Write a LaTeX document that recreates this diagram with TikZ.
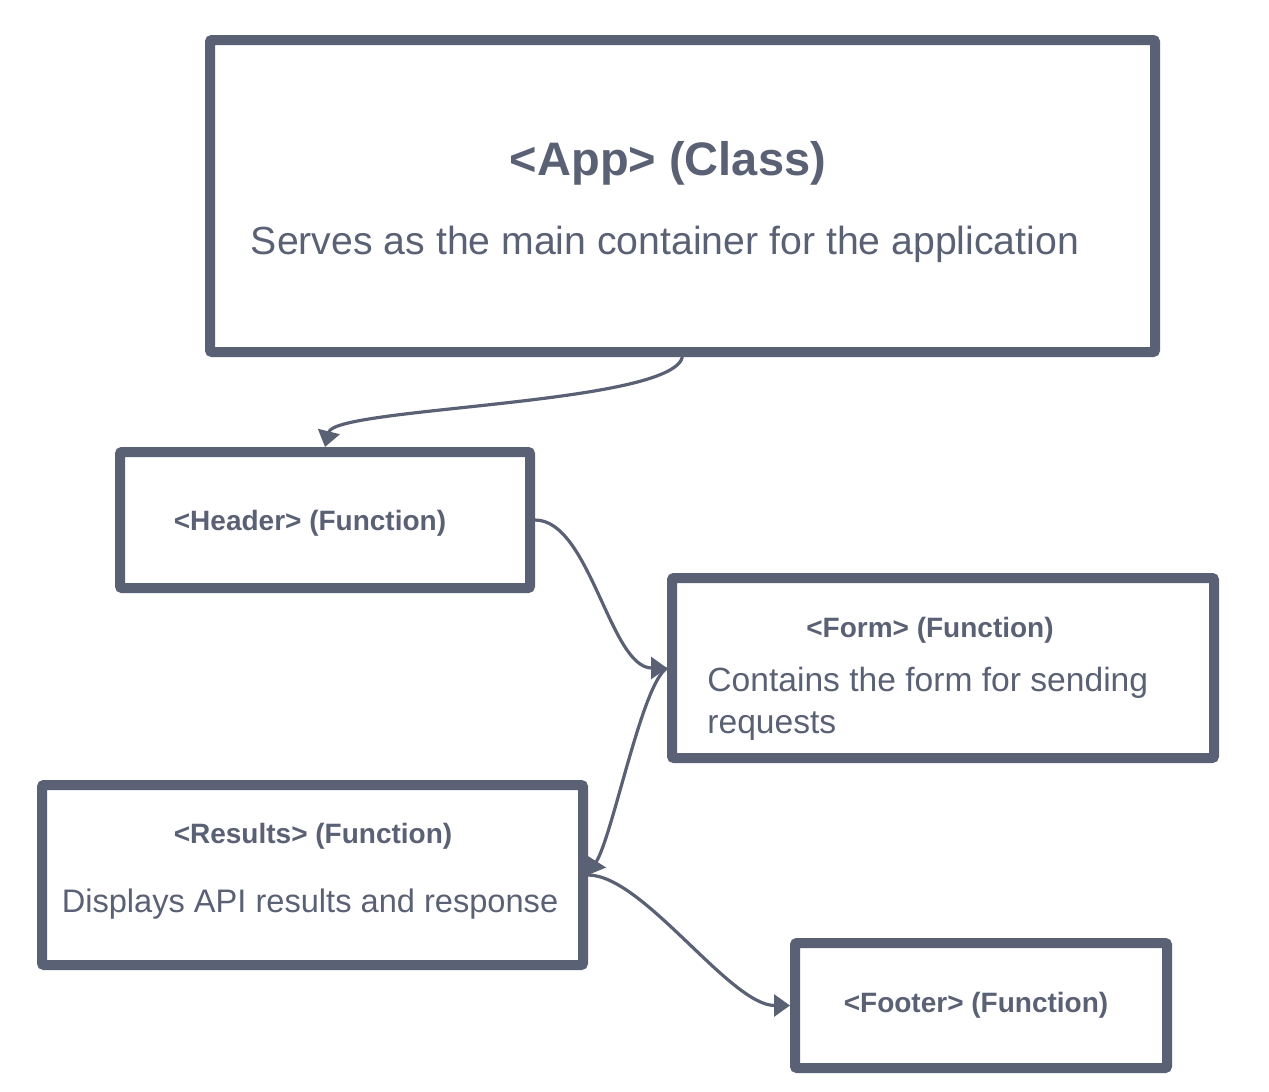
\documentclass[tikz,border=0pt]{standalone}
\usepackage{fontspec}
\setmainfont{Liberation Sans}
\usepackage{tikz}
\usetikzlibrary{arrows.meta,positioning,calc}
\definecolor{boxgray}{RGB}{91,97,117}
\tikzset{
    box/.style={rectangle, draw=boxgray, line width=5pt, rounded corners=1pt, inner sep=0pt},
    title/.style={text=boxgray, inner sep=0pt, font=\fontsize{14}{17}\selectfont\bfseries},
    bigtitle/.style={text=boxgray, inner sep=0pt, font=\fontsize{23.5}{28}\selectfont\bfseries},
    desc/.style={text=boxgray, inner sep=0pt, font=\fontsize{16.5}{21}\selectfont},
    bigdesc/.style={text=boxgray, inner sep=0pt, font=\fontsize{19.6}{23}\selectfont},
    conn/.style={draw=boxgray, line width=1.6pt, -{Triangle[length=8pt,width=11pt]}}
}
\begin{document}
\begin{tikzpicture}[x=0.5pt, y=-0.5pt]
    \useasboundingbox (0,0) rectangle (1269,1092);

    % App container
    \node [box, minimum width=472.5pt, minimum height=156pt] (app) at (682.5,196) {};
    \node [bigtitle] (apptitle) at (668,163) {<App> (Class)};
    \node [bigdesc] (apptext) at (665,244) {Serves as the main container for the application};

    % Components
    \node [box, minimum width=205pt, minimum height=68pt] (header) at (325,520) {};
    \node [title] (headertitle) at (310,523) {<Header> (Function)};

    \node [box, minimum width=271pt, minimum height=90pt] (form) at (943,668) {};
    \node [title] (formtitle) at (930,630) {<Form> (Function)};
    \node [desc, font=\fontsize{16.8}{21}\selectfont, anchor=west, align=left] (formtext) at (707,704) {Contains the form for sending\\requests};

    \node [box, minimum width=270.5pt, minimum height=90pt] (results) at (312.5,875) {};
    \node [title] (resultstitle) at (313,836) {<Results> (Function)};
    \node [desc, font=\fontsize{16.3}{21}\selectfont] (resultstext) at (310,904) {Displays API results and response};

    \node [box, minimum width=186pt, minimum height=62.5pt] (footer) at (981,1005.5) {};
    \node [title] (footertitle) at (976,1005) {<Footer> (Function)};

    % Connectors
    \draw [conn] (app.south) .. controls +(-12,48) and +(10,-40) .. (header.north);
    \draw [conn] (header.east) .. controls +(55,0) and +(-57,0) .. (form.west);
    \draw [conn] (form.west) .. controls +(-25,15) and +(25,-40) .. (results.east);
    \draw [conn] (results.east) .. controls +(55,0) and +(-60,0) .. (footer.west);
\end{tikzpicture}
\end{document}
